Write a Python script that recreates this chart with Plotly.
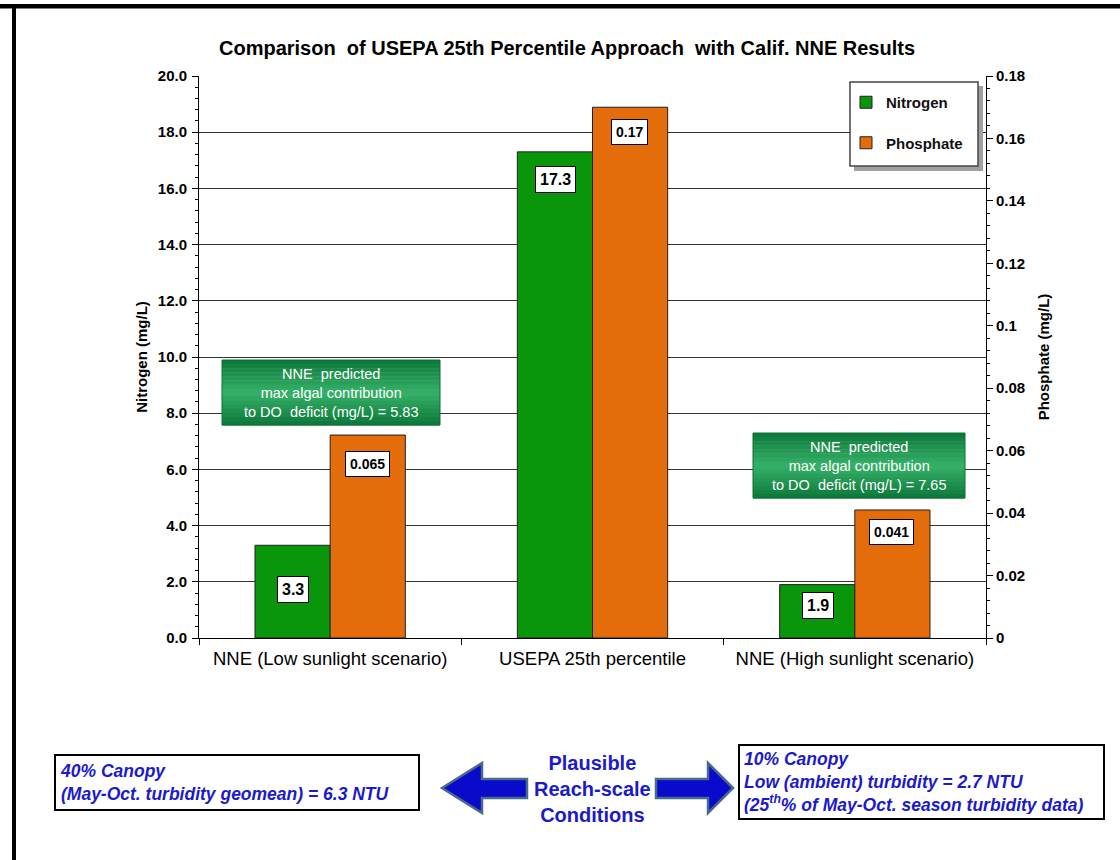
import plotly.graph_objects as go

# ---------------- data ----------------
categories = ["NNE (Low sunlight scenario)", "USEPA 25th percentile", "NNE (High sunlight scenario)"]
nitrogen = [3.3, 17.3, 1.9]
phosphate = [0.065, 0.17, 0.041]
nitrogen_labels = ["3.3", "17.3", "1.9"]
phosphate_labels = ["0.065", "0.17", "0.041"]
series_names = ["Nitrogen", "Phosphate"]
nne_notes = [
    "NNE  predicted<br>max algal contribution<br>to DO  deficit (mg/L) = 5.83",
    "NNE  predicted<br>max algal contribution<br>to DO  deficit (mg/L) = 7.65",
]
title_text = "Comparison  of USEPA 25th Percentile Approach  with Calif. NNE Results"
left_box_text = "40% Canopy<br>(May-Oct. turbidity geomean) = 6.3 NTU"
right_box_text = ("10% Canopy<br>Low (ambient) turbidity = 2.7 NTU<br>"
                  "(25<sup>th</sup>% of May-Oct. season turbidity data)")
center_text = "Plausible<br>Reach-scale<br>Conditions"

# ---------------- style ----------------
W, H = 1120, 860
L, R, T, B = 199, 986, 76, 638
FONT = "Liberation Sans, Arial, sans-serif"
GREEN = "#0A960A"
ORANGE = "#E46C0A"
BLUE = "#1A1ACC"
N_DROP = [-44, -28, -21]
P_DROP = [-29, -25, -22]


def cx(x):
    return (x - L) / (R - L)


def cy(y):
    return (B - y) / (B - T)


fig = go.Figure()
fig.add_bar(x=categories, y=nitrogen, name=series_names[0], yaxis="y",
            offsetgroup="n", legendgroup="n",
            marker=dict(color=GREEN, line=dict(color="#222222", width=1)))
fig.add_bar(x=categories, y=phosphate, name=series_names[1], yaxis="y2",
            offsetgroup="p", legendgroup="p",
            marker=dict(color=ORANGE, line=dict(color="#222222", width=1)))

annotations = []
shapes = []

# value labels
for cat, v, lab, d in zip(categories, nitrogen, nitrogen_labels, N_DROP):
    annotations.append(dict(x=cat, y=v, xref="x", yref="y", xshift=-37, yshift=d,
                            xanchor="center", yanchor="middle",
                            text="<b>%s</b>" % lab, showarrow=False,
                            font=dict(family=FONT, size=16, color="black"),
                            bgcolor="white", bordercolor="black", borderwidth=1, borderpad=4))
for cat, v, lab, d in zip(categories, phosphate, phosphate_labels, P_DROP):
    annotations.append(dict(x=cat, y=v, xref="x", yref="y2", xshift=37, yshift=d,
                            xanchor="center", yanchor="middle",
                            text="<b>%s</b>" % lab, showarrow=False,
                            font=dict(family=FONT, size=14, color="black"),
                            bgcolor="white", bordercolor="black", borderwidth=1, borderpad=4))

# title
annotations.append(dict(x=cx(567), y=cy(48), xref="paper", yref="paper", text="<b>%s</b>" % title_text,
                        showarrow=False, xanchor="center", yanchor="middle",
                        font=dict(family=FONT, size=20, color="black")))


# green gradient boxes
def green_box(x0, y0, x1, y1, note):
    n = 16
    top = (12, 120, 58)
    mid = (55, 178, 105)
    for i in range(n):
        t = (i + 0.5) / n
        f = 1 - abs(t - 0.5) * 2
        c = tuple(int(top[k] + (mid[k] - top[k]) * f) for k in range(3))
        ya = y0 + (y1 - y0) * i / n
        yb = y0 + (y1 - y0) * (i + 1) / n + 0.5
        shapes.append(dict(type="rect", xref="paper", yref="paper", layer="above",
                           x0=cx(x0), x1=cx(x1), y0=cy(ya), y1=cy(yb),
                           fillcolor="rgb(%d,%d,%d)" % c, line=dict(width=0)))
    shapes.append(dict(type="rect", xref="paper", yref="paper", layer="above",
                       x0=cx(x0), x1=cx(x1), y0=cy(y0), y1=cy(y1),
                       fillcolor="rgba(0,0,0,0)", line=dict(color="#0E6E34", width=1)))
    annotations.append(dict(x=cx((x0 + x1) / 2), y=cy((y0 + y1) / 2), xref="paper", yref="paper",
                            xanchor="center", yanchor="middle",
                            text=note, showarrow=False, align="center",
                            font=dict(family=FONT, size=14.5, color="white")))


green_box(222, 360, 440, 425, nne_notes[0])
green_box(753, 433, 965, 498, nne_notes[1])

# legend box + shadow
shapes.append(dict(type="rect", xref="paper", yref="paper", layer="above",
                   x0=cx(854), x1=cx(983), y0=cy(86), y1=cy(171),
                   fillcolor="#a0a0a0", line=dict(width=0)))
shapes.append(dict(type="rect", xref="paper", yref="paper", layer="above",
                   x0=cx(850), x1=cx(978), y0=cy(82), y1=cy(166),
                   fillcolor="white", line=dict(color="#444444", width=1.5)))

# frame lines
shapes.append(dict(type="rect", xref="paper", yref="paper", layer="above",
                   x0=cx(0), x1=cx(W), y0=cy(4), y1=cy(8.5), fillcolor="black", line=dict(width=0)))
shapes.append(dict(type="rect", xref="paper", yref="paper", layer="above",
                   x0=cx(12), x1=cx(16), y0=cy(4), y1=cy(H), fillcolor="black", line=dict(width=0)))

# bottom boxes
annotations.append(dict(x=cx(54), y=cy(754), xref="paper", yref="paper", xanchor="left", yanchor="top",
                        text="<b><i>%s</i></b>" % left_box_text, showarrow=False, align="left",
                        width=354, height=45, valign="middle",
                        font=dict(family=FONT, size=17.5, color=BLUE),
                        bgcolor="white", bordercolor="black", borderwidth=2, borderpad=4))
annotations.append(dict(x=cx(738), y=cy(744), xref="paper", yref="paper", xanchor="left", yanchor="top",
                        text="<b><i>%s</i></b>" % right_box_text, showarrow=False, align="left",
                        width=355, height=64, valign="middle",
                        font=dict(family=FONT, size=17.5, color=BLUE),
                        bgcolor="white", bordercolor="black", borderwidth=2, borderpad=4))
annotations.append(dict(x=cx(592), y=cy(789), xref="paper", yref="paper",
                        xanchor="center", yanchor="middle",
                        text="<b>%s</b>" % center_text, showarrow=False, align="center",
                        font=dict(family=FONT, size=20, color=BLUE)))


# arrows
def path(pts):
    return "M " + " L ".join("%f,%f" % (cx(a), cy(b)) for a, b in pts) + " Z"


left_arrow = [(442, 788), (482, 763), (482, 779), (527, 779), (527, 798), (482, 798), (482, 813)]
right_arrow = [(733, 788), (708, 763), (708, 779), (656, 779), (656, 798), (708, 798), (708, 813)]
for pts in (left_arrow, right_arrow):
    shapes.append(dict(type="path", xref="paper", yref="paper", layer="above", path=path(pts),
                       fillcolor="#0A0ACC", line=dict(color="#4A6A8A", width=2.5)))

fig.update_layout(
    width=W, height=H,
    margin=dict(l=L, r=W - R, t=T, b=H - B, pad=0),
    paper_bgcolor="white", plot_bgcolor="white",
    barmode="group", bargap=0.427, bargroupgap=0,
    showlegend=True,
    legend=dict(x=cx(846), y=cy(86), xanchor="left", yanchor="top",
                bgcolor="rgba(0,0,0,0)", borderwidth=0,
                font=dict(family=FONT, size=15, color="#111111", weight="bold"),
                tracegroupgap=18, itemwidth=30, traceorder="grouped"),
    xaxis=dict(showline=True, linecolor="black", linewidth=1,
               ticks="outside", tickson="boundaries", ticklen=6, tickcolor="black",
               tickfont=dict(family=FONT, size=18.5, color="black"),
               ticklabelstandoff=4,
               showgrid=False, zeroline=False),
    yaxis=dict(range=[0, 20], dtick=2, tickformat=".1f",
               showline=True, linecolor="black", linewidth=1,
               ticks="outside", ticklen=6, tickcolor="black",
               minor=dict(dtick=0.4, ticks="outside", ticklen=3, tickcolor="black", showgrid=False),
               showgrid=True, gridcolor="#333333", gridwidth=1, zeroline=False,
               tickfont=dict(family=FONT, size=15, color="black", weight="bold"),
               ticklabelstandoff=2,
               title=dict(text="<b>Nitrogen (mg/L)</b>", standoff=6,
                          font=dict(family=FONT, size=15, color="black"))),
    yaxis2=dict(range=[0, 0.18], dtick=0.02, overlaying="y", side="right",
                showline=True, linecolor="black", linewidth=1,
                ticks="outside", ticklen=6, tickcolor="black",
                minor=dict(dtick=0.004, ticks="outside", ticklen=3, tickcolor="black", showgrid=False),
                showgrid=False, zeroline=False,
                tickfont=dict(family=FONT, size=15, color="black", weight="bold"),
                title=dict(text="<b>Phosphate (mg/L)</b>", standoff=13,
                           font=dict(family=FONT, size=15, color="black"))),
    annotations=annotations,
    shapes=shapes,
)

fig.write_html("out.html", config={"displayModeBar": False},
               post_script="document.body.style.margin='0px';")
